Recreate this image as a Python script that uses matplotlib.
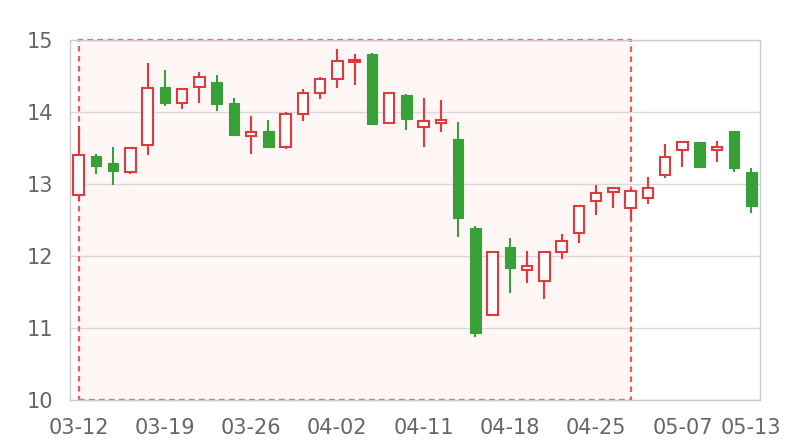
import matplotlib
matplotlib.use("Agg")
import matplotlib.pyplot as plt
from matplotlib.patches import Rectangle
import numpy as np

dates = ["03-12", "03-13", "03-14", "03-15", "03-16",
         "03-19", "03-20", "03-21", "03-22", "03-23",
         "03-26", "03-27", "03-28", "03-29", "03-30",
         "04-02", "04-03", "04-04", "04-09", "04-10",
         "04-11", "04-12", "04-13", "04-16", "04-17",
         "04-18", "04-19", "04-20", "04-23", "04-24",
         "04-25", "04-26", "04-27", "05-02", "05-03",
         "05-07", "05-08", "05-09", "05-10", "05-13"]

opens = [12.85, 13.39, 13.29, 13.16, 13.54, 14.35, 14.12, 14.35, 14.41, 14.12,
         13.66, 13.74, 13.52, 13.97, 14.26, 14.46, 14.69, 14.81, 13.85, 14.24,
         13.79, 13.85, 13.62, 12.39, 11.18, 12.12, 11.80, 11.65, 12.05, 12.32,
         12.76, 12.89, 12.67, 12.81, 13.125, 13.47, 13.59, 13.47, 13.74, 13.16]
closes = [13.40, 13.25, 13.18, 13.50, 14.34, 14.13, 14.32, 14.48, 14.11, 13.68,
          13.72, 13.51, 13.97, 14.27, 14.46, 14.71, 14.72, 13.84, 14.27, 13.90,
          13.88, 13.89, 12.53, 10.93, 12.06, 11.84, 11.86, 12.05, 12.21, 12.69,
          12.87, 12.95, 12.90, 12.95, 13.38, 13.59, 13.24, 13.52, 13.22, 12.69]
highs = [13.81, 13.42, 13.51, 13.52, 14.68, 14.59, 14.32, 14.55, 14.51, 14.19,
         13.94, 13.89, 14.00, 14.32, 14.49, 14.875, 14.80, 14.82, 14.27, 14.25,
         14.20, 14.17, 13.86, 12.41, 12.07, 12.25, 12.07, 12.06, 12.31, 12.70,
         12.99, 12.96, 12.93, 13.10, 13.55, 13.60, 13.59, 13.60, 13.74, 13.22]
lows = [12.76, 13.14, 12.98, 13.14, 13.40, 14.08, 14.04, 14.12, 14.02, 13.68,
        13.42, 13.51, 13.49, 13.88, 14.18, 14.34, 14.37, 13.83, 13.84, 13.75,
        13.51, 13.72, 12.26, 10.87, 11.18, 11.48, 11.62, 11.40, 11.96, 12.18,
        12.57, 12.67, 12.50, 12.72, 13.08, 13.23, 13.24, 13.30, 13.16, 12.60]

highlight_start = "03-12"
highlight_end = "04-27"
tick_idx = [0, 5, 10, 15, 20, 25, 30, 35, 39]
y_ticks = [10, 11, 12, 13, 14, 15]

UP = "#e4393c"
DOWN = "#37a036"
GRID = "#d9d9d9"
TXT = "#666666"

fig = plt.figure(figsize=(8, 4.4), dpi=100)
ax = fig.add_axes([0.0875, 0.0909, 0.8625, 0.8182])

x = np.arange(len(dates))
o = np.array(opens); c = np.array(closes); h = np.array(highs); l = np.array(lows)
up = c >= o

# highlighted area (fill under grid, dashed border above)
xs = dates.index(highlight_start); xe = dates.index(highlight_end)
ax.add_patch(Rectangle((xs, 10), xe - xs, 5, facecolor="#fff6f6",
                       edgecolor="none", zorder=0.1))
ax.add_patch(Rectangle((xs, 10), xe - xs, 5, facecolor="none",
                       edgecolor="#ef5a5a", linestyle=(0, (2.5, 2)), linewidth=1.6,
                       zorder=2.5, clip_on=False))

# wicks
ax.vlines(x[up], l[up], h[up], color=UP, linewidth=1.5, zorder=3)
ax.vlines(x[~up], l[~up], h[~up], color=DOWN, linewidth=1.5, zorder=3)

# bodies
bw = 0.62
hgt = np.maximum(np.abs(c - o), 0.025)
bot = np.minimum(o, c)
ax.bar(x[up], hgt[up], bottom=bot[up], width=bw, facecolor="white",
       edgecolor=UP, linewidth=1.5, zorder=4)
ax.bar(x[~up], hgt[~up], bottom=bot[~up], width=bw, facecolor=DOWN,
       edgecolor=DOWN, linewidth=0.8, zorder=4)

ax.set_xlim(-0.5, len(dates) - 0.5)
ax.set_ylim(10, 15)
ax.set_yticks(y_ticks)
ax.set_yticklabels([str(v) for v in y_ticks])
ax.set_xticks(tick_idx)
ax.set_xticklabels([dates[i] for i in tick_idx])
ax.tick_params(axis="both", length=0, labelsize=15, labelcolor=TXT)
ax.tick_params(axis="y", pad=12)
ax.tick_params(axis="x", pad=13)
ax.grid(axis="y", color=GRID, linewidth=1, zorder=0.5)
ax.set_axisbelow(True)
for s in ax.spines.values():
    s.set_color("#cccccc")
    s.set_linewidth(1)

fig.savefig("out.png", dpi=100)
